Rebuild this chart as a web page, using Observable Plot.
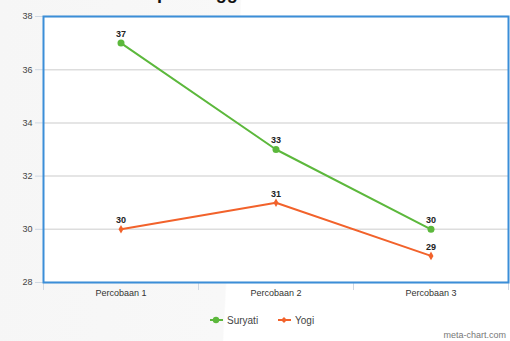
<!DOCTYPE html>
<html>
<head>
<meta charset="utf-8">
<script src="https://cdn.jsdelivr.net/npm/d3@7"></script>
<script src="https://cdn.jsdelivr.net/npm/@observablehq/plot@0.6"></script>
<style>
  html, body { margin: 0; padding: 0; }
  body {
    width: 510px; height: 341px; overflow: hidden; position: relative;
    font-family: "Liberation Sans", Arial, sans-serif;
    background: linear-gradient(93deg, #f6f6f6 0%, #f8f8f8 45.5%, #ffffff 45.8%);
  }
  #title {
    position: absolute; left: 119px; top: -16px; font-size: 18px; line-height: 18px;
    font-weight: bold; color: #111; white-space: nowrap;
  }
  #chart { position: absolute; left: 0; top: 0; }
  #legend { position: absolute; left: 0; top: 300px; width: 510px; height: 41px; font-size: 10px; color: #444; }
  .item { position: absolute; top: 14px; display: flex; align-items: center; gap: 4px; }
  #credit { position: absolute; right: 4px; bottom: 1px; font-size: 9px; color: #777; }
</style>
</head>
<body>
<div id="title">Lompat Tinggi</div>
<div id="chart"></div>
<div id="legend"></div>
<div id="credit">meta-chart.com</div>
<script>
const categories = ["Percobaan 1", "Percobaan 2", "Percobaan 3"];
const suryati = [37, 33, 30];
const yogi = [30, 31, 29];
const seriesNames = ["Suryati", "Yogi"];
const seriesColors = ["#5cb83c", "#f2622b"];
const seriesSymbols = ["circle", "diamond"];
const yTicks = [28, 30, 32, 34, 36, 38];

const values = [suryati, yogi];
const rows = [];
seriesNames.forEach((s, k) => values[k].forEach((v, i) => rows.push({series: s, i: i + 1, value: v})));
const bounds = d3.range(0.5, categories.length + 1, 1);

const chart = Plot.plot({
  width: 510, height: 300,
  marginTop: 16, marginLeft: 43, marginRight: 2, marginBottom: 18,
  style: {background: "transparent", fontFamily: "Liberation Sans, Arial, sans-serif"},
  x: {type: "linear", domain: [0.5, categories.length + 0.5], label: null},
  y: {domain: [28, 38], label: null},
  color: {domain: seriesNames, range: seriesColors},
  symbol: {domain: seriesNames, range: seriesSymbols},
  marks: [
    Plot.frame({fill: "white", stroke: "none"}),
    Plot.gridY(yTicks, {stroke: "#dddddd", strokeOpacity: 1, strokeWidth: 1.5}),
    Plot.axisY(yTicks, {tickSize: 8, tickFormat: () => "", stroke: "#cfd8e3", strokeOpacity: 1, label: null}),
    Plot.axisY(yTicks, {tickSize: 0, tickPadding: 11, fontSize: 9, fill: "#444", label: null}),
    Plot.axisX(bounds, {tickSize: 8, tickFormat: () => "", stroke: "#cfd8e3", strokeOpacity: 1, label: null}),
    Plot.axisX(d3.range(1, categories.length + 1), {tickSize: 0, tickPadding: 7, fontSize: 9, fill: "#333", tickFormat: i => categories[i - 1], label: null}),
    Plot.frame({stroke: "#3b8ed8", strokeWidth: 2}),
    Plot.line(rows, {x: "i", y: "value", z: "series", stroke: "series", strokeWidth: 2}),
    Plot.dot(rows, {filter: d => d.series === seriesNames[0], x: "i", y: "value", fill: "series", symbol: "series", r: 3.5}),
    Plot.dot(rows, {filter: d => d.series === seriesNames[1], x: "i", y: "value", fill: "series", symbol: "series", r: 2.6}),
    Plot.text(rows, {x: "i", y: "value", text: d => String(d.value), dy: -9, fontWeight: "bold", fontSize: 9, fill: "#222"})
  ]
});
document.getElementById("chart").append(chart);

const legendX = [210, 278];
const legend = document.getElementById("legend");
seriesNames.forEach((s, k) => {
  const item = document.createElement("div");
  item.className = "item";
  item.style.left = legendX[k] + "px";
  const marker = seriesSymbols[k] === "circle"
    ? `<circle cx="6" cy="6" r="3.2" fill="${seriesColors[k]}"/>`
    : `<path d="M6,3L9,6L6,9L3,6Z" fill="${seriesColors[k]}"/>`;
  item.innerHTML = `<svg width="13" height="12"><line x1="0" x2="13" y1="6" y2="6" stroke="${seriesColors[k]}" stroke-width="2"/>${marker}</svg><span>${s}</span>`;
  legend.append(item);
});
</script>
</body>
</html>
